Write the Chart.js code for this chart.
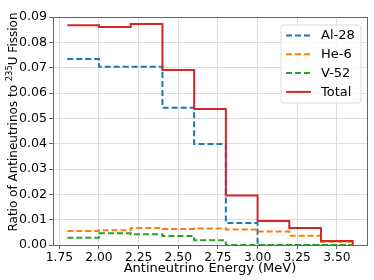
<!DOCTYPE html>
<html>
<head>
<meta charset="utf-8">
<script src="https://cdn.jsdelivr.net/npm/chart.js@4.4.1/dist/chart.umd.min.js"></script>
<style>
html,body{margin:0;padding:0;background:#fff;}
#wrap{width:374px;height:280px;}
</style>
</head>
<body>
<div id="wrap"><canvas id="c" width="374" height="280"></canvas></div>
<script>
const edges = [1.8, 2.0, 2.2, 2.4, 2.6, 2.8, 3.0, 3.2, 3.4, 3.6];
const al28 = [0.0734, 0.0704, 0.0704, 0.0542, 0.0399, 0.0087, 0, 0, 0];
const he6 = [0.0055, 0.0058, 0.0067, 0.0063, 0.0065, 0.0061, 0.0053, 0.0037, 0.0013];
const v52 = [0.0029, 0.0046, 0.0042, 0.0036, 0.0019, 0, 0, 0, 0];
const total = [0.0867, 0.0861, 0.0872, 0.0691, 0.0537, 0.0195, 0.0095, 0.0067, 0.0016];
const seriesNames = ['Al-28', 'He-6', 'V-52', 'Total'];
const xTicks = [1.75, 2.00, 2.25, 2.50, 2.75, 3.00, 3.25, 3.50];
const yTicks = [0.00, 0.01, 0.02, 0.03, 0.04, 0.05, 0.06, 0.07, 0.08, 0.09];
const xTitle = 'Antineutrino Energy (MeV)';
const yTitleParts = ['Ratio of Antineutrinos to ', '235', 'U Fission'];

function stepPoints(vals) {
  const pts = vals.map((v, i) => ({x: edges[i], y: v}));
  pts.push({x: edges[edges.length - 1], y: 0});
  return pts;
}

const colors = ['#1f77b4', '#ff7f0e', '#2ca02c', '#d62728'];
const allSeries = [al28, he6, v52, total];
const FONT = 'DejaVu Sans';
const SPINE = '#666666';

const datasets = allSeries.map((s, i) => ({
  label: seriesNames[i],
  data: stepPoints(s),
  borderColor: colors[i],
  backgroundColor: colors[i],
  borderWidth: 2,
  borderDash: i < 3 ? [6, 3] : [],
  stepped: 'before',
  pointRadius: 0,
  fill: false,
  order: 3 - i
}));

const frameLegend = {
  id: 'frameLegend',
  afterDraw(chart) {
    const ctx = chart.ctx;
    const a = chart.chartArea;
    ctx.save();
    // spines
    ctx.strokeStyle = SPINE;
    ctx.lineWidth = 1;
    ctx.setLineDash([]);
    ctx.strokeRect(Math.round(a.left) + 0.5, Math.round(a.top) + 0.5, Math.round(a.right - a.left), Math.round(a.bottom - a.top));
    // legend
    const bx = 281, by = 25, bw = 80, bh = 78, r = 3;
    ctx.beginPath();
    ctx.moveTo(bx + r, by);
    ctx.arcTo(bx + bw, by, bx + bw, by + bh, r);
    ctx.arcTo(bx + bw, by + bh, bx, by + bh, r);
    ctx.arcTo(bx, by + bh, bx, by, r);
    ctx.arcTo(bx, by, bx + bw, by, r);
    ctx.closePath();
    ctx.fillStyle = 'rgba(255,255,255,0.8)';
    ctx.fill();
    ctx.strokeStyle = '#dcdcdc';
    ctx.stroke();
    ctx.font = '13px "' + FONT + '"';
    ctx.textBaseline = 'middle';
    ctx.textAlign = 'left';
    chart.data.datasets.forEach((ds, i) => {
      const y = 35.5 + i * 18.8;
      ctx.beginPath();
      ctx.strokeStyle = ds.borderColor;
      ctx.lineWidth = 2;
      ctx.setLineDash(ds.borderDash);
      ctx.moveTo(286, y);
      ctx.lineTo(311, y);
      ctx.stroke();
      ctx.setLineDash([]);
      ctx.fillStyle = '#000';
      ctx.fillText(ds.label, 321, y + 0.5);
    });
    // y title with superscript
    const f1 = '12px "' + FONT + '"', f2 = '8.4px "' + FONT + '"';
    ctx.font = f1;
    const w1 = ctx.measureText(yTitleParts[0]).width;
    const w3 = ctx.measureText(yTitleParts[2]).width;
    ctx.font = f2;
    const w2 = ctx.measureText(yTitleParts[1]).width;
    const W = w1 + w2 + w3;
    ctx.translate(0, 122);
    ctx.rotate(-Math.PI / 2);
    ctx.fillStyle = '#000';
    ctx.textBaseline = 'alphabetic';
    ctx.textAlign = 'left';
    const base = 16.5;
    let u = -W / 2;
    ctx.font = f1;
    ctx.fillText(yTitleParts[0], u, base);
    u += w1;
    ctx.font = f2;
    ctx.fillText(yTitleParts[1], u, base - 4.6);
    u += w2;
    ctx.font = f1;
    ctx.fillText(yTitleParts[2], u, base);
    ctx.restore();
  }
};

new Chart(document.getElementById('c'), {
  type: 'line',
  data: {datasets},
  options: {
    responsive: false,
    animation: false,
    layout: {padding: {top: 17, right: 7, left: 0, bottom: 0}},
    plugins: {legend: {display: false}, tooltip: {enabled: false}},
    scales: {
      x: {
        type: 'linear',
        min: 1.71,
        max: 3.69,
        afterBuildTicks: ax => { ax.ticks = xTicks.map(v => ({value: v})); },
        afterFit: ax => { ax.height = 35; },
        ticks: {
          autoSkip: false,
          maxRotation: 0,
          padding: 1,
          color: '#000',
          font: {family: FONT, size: 12.3},
          callback: v => v.toFixed(2)
        },
        grid: {color: '#dddddd', tickColor: SPINE, tickLength: 4, lineWidth: 1},
        border: {color: SPINE},
        title: {display: true, text: xTitle, color: '#000', font: {family: FONT, size: 13}, padding: {top: 0, bottom: 4}}
      },
      y: {
        min: 0,
        max: 0.09,
        afterBuildTicks: ax => { ax.ticks = yTicks.map(v => ({value: v})); },
        afterFit: ax => { ax.width = 53; },
        ticks: {
          autoSkip: false,
          padding: 2,
          color: '#000',
          font: {family: FONT, size: 12.6},
          callback: v => v.toFixed(2)
        },
        grid: {color: '#dddddd', tickColor: SPINE, tickLength: 4, lineWidth: 1},
        border: {color: SPINE}
      }
    }
  },
  plugins: [frameLegend]
});
</script>
</body>
</html>
